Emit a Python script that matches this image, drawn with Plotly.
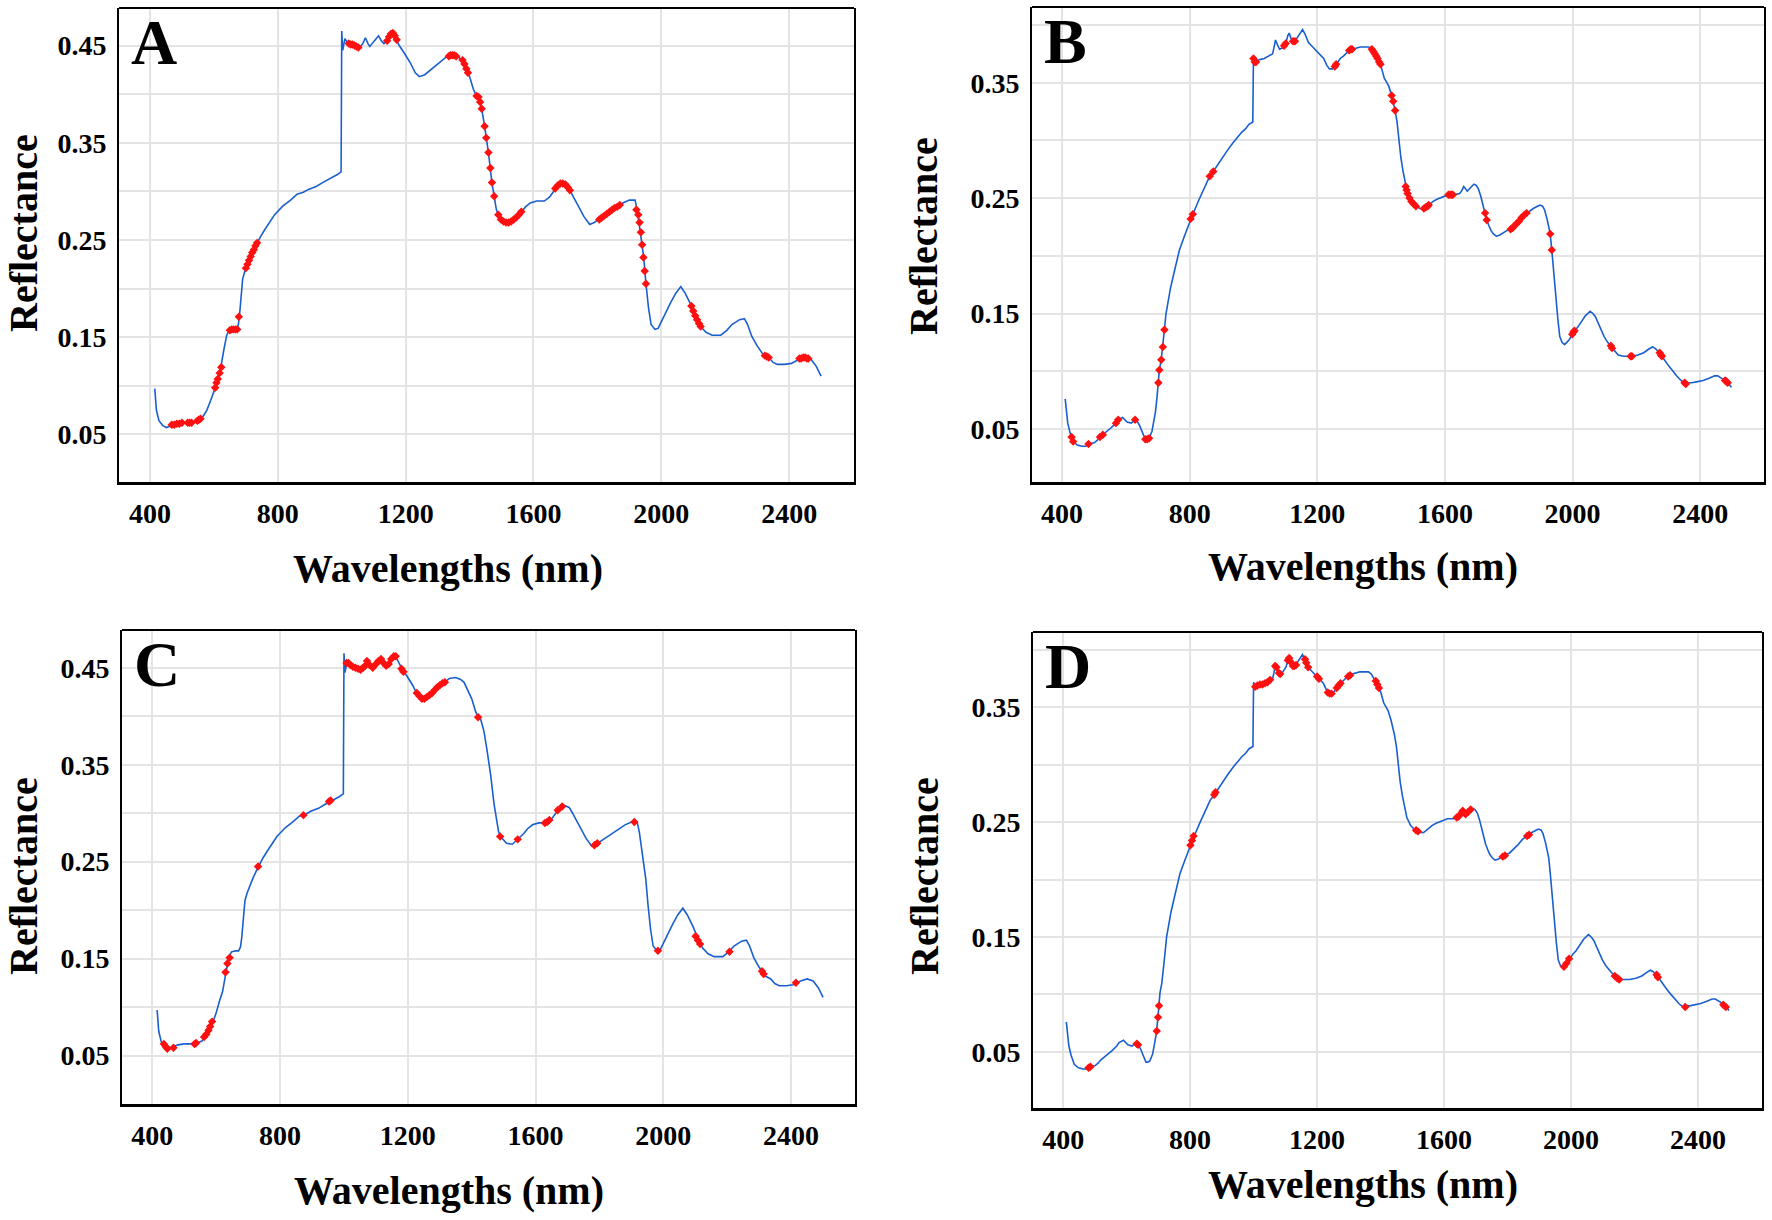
import plotly.graph_objects as go

# ---------------- data ----------------
# Spectrum shown in panels A and C (wavelength nm, reflectance)
wl_ac = [415, 420, 428, 440, 452, 465, 480, 500, 520, 540, 555, 567, 578, 590, 600, 610, 620, 630, 640, 648,
         660, 670, 676, 680, 685, 690, 697, 705, 715, 725, 735, 745, 758, 772, 790, 816, 840, 860, 880, 896,
         920, 940, 965, 985, 998, 1000, 1003, 1010, 1016, 1030, 1045, 1056, 1066, 1074, 1082, 1088, 1100, 1115, 1124, 1132,
         1142, 1150, 1160, 1170, 1180, 1198, 1215, 1230, 1243, 1260, 1278, 1298, 1314, 1330, 1350, 1365, 1376, 1390, 1400, 1412,
         1420, 1428, 1438, 1447, 1459, 1470, 1477, 1484, 1490, 1509, 1527, 1545, 1563, 1575, 1590, 1610, 1634, 1650, 1670, 1690,
         1705, 1714, 1728, 1741, 1758, 1776, 1790, 1803, 1830, 1860, 1880, 1900, 1918, 1925, 1935, 1945, 1952, 1960, 1968, 1980,
         1990, 2003, 2016, 2030, 2045, 2061, 2075, 2093, 2110, 2123, 2140, 2159, 2186, 2205, 2221, 2245, 2260, 2270, 2283, 2300,
         2319, 2336, 2350, 2363, 2385, 2407, 2430, 2450, 2469, 2485, 2500]
refl_ac = [0.097, 0.075, 0.064, 0.059, 0.057, 0.059, 0.061, 0.062, 0.062, 0.063, 0.065, 0.069, 0.075, 0.085, 0.094, 0.106, 0.116, 0.135, 0.152, 0.157,
           0.158, 0.158, 0.162, 0.172, 0.195, 0.210, 0.218, 0.225, 0.233, 0.240, 0.247, 0.253, 0.260, 0.267, 0.276, 0.285, 0.291, 0.297, 0.299, 0.302,
           0.305, 0.309, 0.313, 0.317, 0.320, 0.465, 0.445, 0.457, 0.454, 0.451, 0.449, 0.448, 0.452, 0.458, 0.452, 0.449, 0.454, 0.460, 0.455, 0.452,
           0.455, 0.460, 0.463, 0.457, 0.450, 0.441, 0.432, 0.422, 0.418, 0.420, 0.425, 0.431, 0.435, 0.439, 0.440, 0.438, 0.435, 0.426, 0.418, 0.405,
           0.399, 0.397, 0.385, 0.367, 0.340, 0.309, 0.295, 0.281, 0.276, 0.269, 0.268, 0.273, 0.279, 0.284, 0.288, 0.290, 0.290, 0.294, 0.303, 0.308,
           0.306, 0.301, 0.292, 0.285, 0.274, 0.266, 0.268, 0.271, 0.277, 0.284, 0.288, 0.291, 0.291, 0.280, 0.258, 0.232, 0.205, 0.180, 0.163, 0.158,
           0.159, 0.168, 0.177, 0.186, 0.195, 0.202, 0.195, 0.183, 0.169, 0.161, 0.155, 0.152, 0.152, 0.157, 0.163, 0.168, 0.169, 0.163, 0.151, 0.141,
           0.132, 0.129, 0.124, 0.122, 0.122, 0.123, 0.127, 0.129, 0.127, 0.120, 0.110]

# Spectrum shown in panels B and D
wl_bd = [410, 414, 418, 425, 430, 435, 448, 462, 475, 483, 501, 510, 519, 528, 540, 554, 569, 576, 590, 598,
         604, 617, 629, 635, 643, 652, 661, 667, 673, 682, 688, 693, 698, 702, 705, 711, 716, 721, 726, 732,
         740, 750, 760, 768, 785, 803, 810, 830, 847, 863, 874, 888, 901, 920, 936, 950, 963, 975, 986, 998,
         1000, 1004, 1010, 1020, 1034, 1048, 1060, 1064, 1069, 1075, 1082, 1090, 1096, 1102, 1108, 1112, 1118, 1124, 1130, 1138,
         1146, 1154, 1162, 1172, 1182, 1193, 1208, 1220, 1230, 1238, 1248, 1255, 1262, 1272, 1282, 1292, 1300, 1310, 1322, 1335,
         1350, 1362, 1371, 1380, 1389, 1398, 1404, 1410, 1418, 1424, 1433, 1438, 1444, 1450, 1456, 1462, 1469, 1477, 1483, 1495,
         1509, 1522, 1536, 1549, 1562, 1575, 1592, 1611, 1630, 1646, 1652, 1659, 1665, 1670, 1680, 1691, 1698, 1705, 1712, 1720,
         1726, 1731, 1738, 1744, 1752, 1761, 1772, 1783, 1795, 1806, 1818, 1832, 1847, 1856, 1866, 1877, 1890, 1898, 1906, 1912,
         1920, 1926, 1930, 1935, 1941, 1948, 1954, 1960, 1967, 1975, 1982, 1989, 1999, 2006, 2016, 2028, 2040, 2055, 2064, 2072,
         2085, 2099, 2110, 2122, 2132, 2143, 2160, 2184, 2205, 2223, 2238, 2250, 2258, 2266, 2273, 2280, 2292, 2303, 2315, 2326,
         2340, 2353, 2365, 2374, 2392, 2409, 2428, 2445, 2455, 2462, 2472, 2480, 2490, 2498]
refl_bd = [0.076, 0.064, 0.055, 0.047, 0.043, 0.039, 0.036, 0.035, 0.035, 0.037, 0.038, 0.040, 0.043, 0.045, 0.048, 0.051, 0.055, 0.058, 0.060, 0.058,
           0.056, 0.055, 0.058, 0.057, 0.053, 0.047, 0.041, 0.041, 0.042, 0.048, 0.056, 0.065, 0.078, 0.090, 0.101, 0.110, 0.121, 0.136, 0.150, 0.160,
           0.172, 0.184, 0.196, 0.205, 0.218, 0.232, 0.236, 0.249, 0.260, 0.269, 0.273, 0.279, 0.284, 0.292, 0.298, 0.303, 0.307, 0.310, 0.314, 0.316,
           0.372, 0.368, 0.369, 0.370, 0.371, 0.373, 0.375, 0.380, 0.387, 0.383, 0.379, 0.380, 0.382, 0.385, 0.391, 0.393, 0.388, 0.386, 0.386, 0.389,
           0.393, 0.396, 0.392, 0.385, 0.382, 0.379, 0.375, 0.371, 0.365, 0.362, 0.362, 0.364, 0.367, 0.371, 0.373, 0.376, 0.378, 0.379, 0.380, 0.381,
           0.381, 0.381, 0.379, 0.375, 0.371, 0.366, 0.360, 0.354, 0.350, 0.347, 0.339, 0.334, 0.326, 0.316, 0.300, 0.285, 0.273, 0.260, 0.254, 0.247,
           0.243, 0.241, 0.241, 0.244, 0.247, 0.249, 0.251, 0.253, 0.253, 0.254, 0.256, 0.260, 0.258, 0.256, 0.259, 0.262, 0.261, 0.258, 0.252, 0.243,
           0.237, 0.231, 0.226, 0.222, 0.219, 0.217, 0.218, 0.220, 0.222, 0.223, 0.226, 0.230, 0.235, 0.237, 0.239, 0.241, 0.243, 0.244, 0.243, 0.240,
           0.232, 0.225, 0.219, 0.205, 0.185, 0.164, 0.145, 0.130, 0.125, 0.123, 0.125, 0.127, 0.132, 0.135, 0.138, 0.143, 0.148, 0.152, 0.150, 0.147,
           0.138, 0.130, 0.125, 0.121, 0.117, 0.114, 0.113, 0.113, 0.114, 0.116, 0.119, 0.121, 0.120, 0.118, 0.116, 0.113, 0.108, 0.104, 0.100, 0.096,
           0.092, 0.089, 0.090, 0.090, 0.091, 0.092, 0.094, 0.096, 0.096, 0.095, 0.093, 0.091, 0.089, 0.086]

# Selected (red) wavelengths per panel
sel_a_wl = [468, 476, 484, 492, 500, 518, 524, 530, 548, 553, 558,
            604, 608, 612, 618, 623, 650, 656, 662, 668, 673, 678,
            700, 705, 710, 715, 720, 725, 730, 735,
            1022, 1028, 1034, 1040, 1046, 1052, 1142, 1148, 1154, 1160, 1166, 1172,
            1335, 1340, 1346, 1352, 1358, 1378, 1384, 1390, 1395, 1422, 1428, 1433, 1438,
            1447, 1452, 1459, 1465, 1470, 1477,
            1490, 1498, 1506, 1514, 1522, 1530, 1538, 1546, 1554, 1562,
            1668, 1676, 1684, 1692, 1700, 1708, 1714,
            1806, 1814, 1822, 1830, 1838, 1846, 1854, 1862, 1870,
            1922, 1928, 1932, 1936, 1940, 1944, 1948, 1952,
            2094, 2100, 2106, 2112, 2118, 2123, 2324, 2330, 2336,
            2432, 2438, 2444, 2450, 2456, 2460]
sel_a_refl = [0.060, 0.060, 0.061, 0.061, 0.062, 0.062, 0.062, 0.062, 0.064, 0.065, 0.066,
              0.098, 0.103, 0.107, 0.113, 0.119, 0.157, 0.158, 0.158, 0.158, 0.158, 0.171,
              0.221, 0.225, 0.229, 0.233, 0.237, 0.240, 0.244, 0.247,
              0.452, 0.451, 0.451, 0.450, 0.449, 0.448, 0.455, 0.459, 0.462, 0.463, 0.460, 0.456,
              0.439, 0.440, 0.440, 0.440, 0.439, 0.435, 0.431, 0.426, 0.422, 0.398, 0.397, 0.392, 0.385,
              0.367, 0.355, 0.340, 0.324, 0.309, 0.295,
              0.276, 0.271, 0.269, 0.268, 0.268, 0.269, 0.271, 0.273, 0.276, 0.279,
              0.303, 0.306, 0.308, 0.308, 0.307, 0.304, 0.301,
              0.271, 0.273, 0.275, 0.277, 0.279, 0.281, 0.283, 0.284, 0.286,
              0.281, 0.276, 0.268, 0.258, 0.245, 0.232, 0.218, 0.205,
              0.182, 0.177, 0.172, 0.168, 0.164, 0.161, 0.131, 0.130, 0.129,
              0.128, 0.128, 0.129, 0.129, 0.128, 0.128]

sel_b_wl = [430, 435, 483, 519, 528, 569, 576, 629, 661, 667, 673,
            702, 705, 711, 716, 721, 803, 810, 863, 874,
            1000, 1004, 1008, 1096, 1101, 1124, 1130, 1255, 1259, 1300, 1305, 1309,
            1371, 1376, 1380, 1385, 1389, 1394, 1398, 1433, 1438, 1444,
            1477, 1480, 1483, 1489, 1495, 1502, 1509, 1534, 1540, 1546, 1549,
            1611, 1616, 1621, 1625, 1726, 1731,
            1806, 1812, 1818, 1825, 1832, 1840, 1847, 1856, 1930, 1935,
            1999, 2003, 2006, 2120, 2124, 2182, 2186, 2273, 2277, 2280,
            2351, 2355, 2478, 2482, 2486]
sel_b_refl = [0.043, 0.039, 0.037, 0.043, 0.045, 0.055, 0.058, 0.058, 0.041, 0.041, 0.042,
              0.090, 0.101, 0.110, 0.121, 0.136, 0.232, 0.236, 0.269, 0.273,
              0.371, 0.368, 0.368, 0.382, 0.384, 0.386, 0.386, 0.364, 0.366, 0.378, 0.379, 0.379,
              0.379, 0.377, 0.375, 0.373, 0.371, 0.368, 0.366, 0.339, 0.334, 0.326,
              0.260, 0.257, 0.254, 0.250, 0.247, 0.245, 0.243, 0.241, 0.242, 0.243, 0.244,
              0.253, 0.253, 0.253, 0.253, 0.237, 0.231,
              0.223, 0.224, 0.226, 0.228, 0.230, 0.233, 0.235, 0.237, 0.219, 0.205,
              0.132, 0.134, 0.135, 0.122, 0.120, 0.113, 0.113, 0.116, 0.114, 0.113,
              0.090, 0.089, 0.092, 0.091, 0.090]

sel_c_wl = [436, 442, 447, 466, 532, 537, 562, 569, 576, 581, 587, 629, 635, 642,
            731, 873, 953, 958,
            1008, 1014, 1020, 1028, 1036, 1044, 1052, 1060, 1066, 1072, 1080, 1090, 1100, 1108,
            1116, 1124, 1132, 1140, 1148, 1156, 1162, 1180, 1186,
            1228, 1236, 1244, 1252, 1260, 1268, 1276, 1284, 1292, 1300, 1308, 1316,
            1420, 1489, 1544, 1629, 1636, 1643, 1669, 1683, 1784, 1793, 1909,
            1983, 2101, 2108, 2115, 2207, 2309, 2314, 2415]
sel_c_refl = [0.062, 0.059, 0.057, 0.058, 0.062, 0.063, 0.069, 0.072, 0.076, 0.080, 0.085, 0.136, 0.145, 0.151,
              0.245, 0.298, 0.312, 0.313,
              0.455, 0.455, 0.453, 0.451, 0.450, 0.449, 0.448, 0.450, 0.452, 0.457, 0.453, 0.450, 0.454, 0.457,
              0.459, 0.455, 0.452, 0.454, 0.459, 0.462, 0.462, 0.449, 0.446,
              0.424, 0.421, 0.418, 0.418, 0.420, 0.422, 0.424, 0.427, 0.430, 0.432, 0.434, 0.435,
              0.399, 0.276, 0.273, 0.290, 0.291, 0.293, 0.303, 0.307, 0.267, 0.269, 0.291,
              0.158, 0.173, 0.169, 0.165, 0.157, 0.137, 0.134, 0.125]

sel_d_wl = [480, 486, 632, 636, 695, 699, 702, 801, 806, 811, 876, 880,
            1005, 1012, 1020, 1028, 1036, 1044, 1052, 1068, 1072, 1080, 1084,
            1108, 1112, 1116, 1124, 1128, 1134, 1162, 1166, 1172, 1200, 1206,
            1234, 1240, 1246, 1262, 1268, 1274, 1298, 1304, 1385, 1390, 1395,
            1512, 1518, 1640, 1646, 1655, 1659, 1668, 1676, 1684,
            1785, 1792, 1862, 1868, 1978, 1986, 1994, 2138, 2146, 2152,
            2270, 2274, 2360, 2480, 2488]
sel_d_refl = [0.036, 0.037, 0.057, 0.056, 0.068, 0.080, 0.090, 0.230, 0.234, 0.238, 0.274, 0.276,
              0.368, 0.369, 0.370, 0.370, 0.371, 0.372, 0.374, 0.386, 0.385, 0.380, 0.379,
              0.391, 0.393, 0.390, 0.386, 0.386, 0.387, 0.392, 0.389, 0.385, 0.377, 0.375,
              0.363, 0.362, 0.362, 0.367, 0.369, 0.371, 0.377, 0.378, 0.373, 0.370, 0.367,
              0.243, 0.242, 0.254, 0.255, 0.258, 0.260, 0.257, 0.259, 0.261,
              0.220, 0.221, 0.238, 0.239, 0.124, 0.127, 0.131, 0.116, 0.114, 0.113,
              0.117, 0.115, 0.089, 0.091, 0.089]

x_ticks = [400, 800, 1200, 1600, 2000, 2400]
y_grid_ac = [0.05, 0.10, 0.15, 0.20, 0.25, 0.30, 0.35, 0.40, 0.45]
y_text_ac = ["0.05", "", "0.15", "", "0.25", "", "0.35", "", "0.45"]
y_grid_bd = [0.05, 0.10, 0.15, 0.20, 0.25, 0.30, 0.35, 0.40]
y_text_bd = ["0.05", "", "0.15", "", "0.25", "", "0.35", ""]

panel_labels = ["A", "B", "C", "D"]
x_title = "Wavelengths (nm)"
y_title = "Reflectance"

# ---------------- figure ----------------
W, H = 1772, 1220
FONT = "Liberation Serif"
LINE_COLOR = "#1a5fcf"

panels = [
    dict(lab=panel_labels[0], wl=wl_ac, r=refl_ac, swl=sel_a_wl, sr=sel_a_refl, px=(119, 854, 8, 482),
         xr=[303, 2603], yr=[0.001, 0.4886], yt=y_grid_ac, ytt=y_text_ac, xt=(448, 568), yt_c=(23, 233)),
    dict(lab=panel_labels[1], wl=wl_bd, r=refl_bd, swl=sel_b_wl, sr=sel_b_refl, px=(1032, 1764, 7, 482),
         xr=[306, 2600], yr=[0.004, 0.4156], yt=y_grid_bd, ytt=y_text_bd, xt=(1363, 566), yt_c=(923, 236)),
    dict(lab=panel_labels[2], wl=wl_ac, r=refl_ac, swl=sel_c_wl, sr=sel_c_refl, px=(122, 855, 630, 1104),
         xr=[305, 2600], yr=[0.0, 0.489], yt=y_grid_ac, ytt=y_text_ac, xt=(449, 1190), yt_c=(23, 876)),
    dict(lab=panel_labels[3], wl=wl_bd, r=refl_bd, swl=sel_d_wl, sr=sel_d_refl, px=(1033, 1762, 632, 1108),
         xr=[305, 2602], yr=[0.001, 0.4157], yt=y_grid_bd, ytt=y_text_bd, xt=(1363, 1184), yt_c=(924, 876)),
]

fig = go.Figure()
annotations = []
shapes = []
for i, p in enumerate(panels):
    n = "" if i == 0 else str(i + 1)
    xa, ya = "x" + n, "y" + n
    l, r, t, b = p["px"]
    fig.add_trace(go.Scatter(x=p["wl"], y=p["r"], mode="lines",
                             line=dict(color=LINE_COLOR, width=1.6),
                             xaxis=xa, yaxis=ya, showlegend=False, hoverinfo="skip"))
    fig.add_trace(go.Scatter(x=p["swl"], y=p["sr"], mode="markers",
                             marker=dict(color="#ff1010", size=6.5, symbol="diamond"),
                             xaxis=xa, yaxis=ya, showlegend=False, hoverinfo="skip"))
    axfont = dict(family=FONT, size=28, color="black", weight="bold")
    fig.layout["xaxis" + n] = dict(domain=[l / W, r / W], range=p["xr"], anchor=ya,
                                   tickvals=x_ticks, ticktext=[str(v) for v in x_ticks],
                                   showgrid=True, gridcolor="#e4e4e4", gridwidth=1.5,
                                   showline=True, linecolor="black", linewidth=3, mirror=False,
                                   ticks="", tickfont=axfont, ticklabelstandoff=4, zeroline=False)
    fig.layout["yaxis" + n] = dict(domain=[1 - b / H, 1 - t / H], range=p["yr"], anchor=xa,
                                   tickvals=p["yt"], ticktext=p["ytt"],
                                   showgrid=True, gridcolor="#e4e4e4", gridwidth=1.5,
                                   showline=True, linecolor="black", linewidth=2, mirror=True,
                                   ticks="", tickfont=axfont, ticklabelstandoff=5, zeroline=False)
    shapes.append(dict(type="line", xref=xa + " domain", yref=ya + " domain",
                       x0=0, x1=1, y0=1, y1=1, line=dict(color="black", width=2)))
    # panel letter
    annotations.append(dict(text="<b>%s</b>" % p["lab"], xref="paper", yref="paper",
                            x=(l + 10) / W, y=1 - (t + 34) / H, xanchor="left", yanchor="middle",
                            showarrow=False, font=dict(family=FONT, size=64, color="black")))
    # axis titles
    annotations.append(dict(text="<b>%s</b>" % x_title, xref="paper", yref="paper",
                            x=p["xt"][0] / W, y=1 - p["xt"][1] / H, xanchor="center", yanchor="middle",
                            showarrow=False, font=dict(family=FONT, size=40, color="black")))
    annotations.append(dict(text="<b>%s</b>" % y_title, xref="paper", yref="paper",
                            x=p["yt_c"][0] / W, y=1 - p["yt_c"][1] / H, xanchor="center", yanchor="middle",
                            textangle=-90, showarrow=False,
                            font=dict(family=FONT, size=40, color="black")))

fig.update_layout(width=W, height=H, margin=dict(l=0, r=0, t=0, b=0),
                  paper_bgcolor="white", plot_bgcolor="white",
                  annotations=annotations, shapes=shapes)
fig.write_html("out.html", config={"displayModeBar": False},
               post_script="document.body.style.margin='0';")
